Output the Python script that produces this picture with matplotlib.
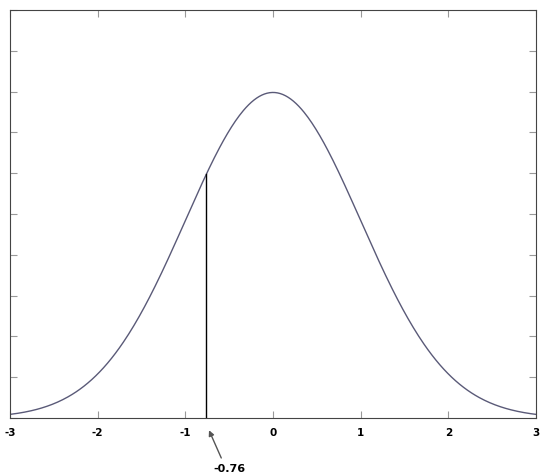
import numpy as np
import matplotlib
matplotlib.use('Agg')
import matplotlib.pyplot as plt

# standard normal curve, marked cut-off
x_min, x_max = -3, 3
cutoff = -0.76
x_ticks = [-3, -2, -1, 0, 1, 2, 3]
y_ticks = [0.05 * i for i in range(11)]

xs = np.linspace(x_min, x_max, 400)
pdf = np.exp(-xs ** 2 / 2) / np.sqrt(2 * np.pi)
cut_h = np.exp(-cutoff ** 2 / 2) / np.sqrt(2 * np.pi)

fig = plt.figure(figsize=(5.44, 4.76), dpi=100)
ax = fig.add_axes([10 / 544, 58 / 476, 526 / 544, 408 / 476])

ax.plot(xs, pdf, color='#5a5a78', lw=1.0)
ax.plot([cutoff, cutoff], [0, cut_h], color='black', lw=1.0)

ax.set_xlim(x_min, x_max)
ax.set_ylim(0, 0.5)
ax.set_xticks(x_ticks)
ax.set_xticklabels([str(t) for t in x_ticks], fontsize=7.5, fontweight='bold')
ax.set_yticks(y_ticks)
ax.set_yticklabels([])
ax.tick_params(direction='in', top=True, right=True, length=5, color='#999999', pad=7)
for s in ax.spines.values():
    s.set_color('#444444')

# arrow and label below the axis
ax.annotate('', xy=(cutoff + 0.03, -0.015), xytext=(-0.59, -0.049),
            annotation_clip=False,
            arrowprops=dict(arrowstyle='-|>', color='#555555', lw=1.0, mutation_scale=8, shrinkA=0, shrinkB=0))
ax.text(-0.5, -0.062, '-0.76', ha='center', va='center', fontsize=8, fontweight='bold', clip_on=False)

fig.savefig('out.png', dpi=100)
